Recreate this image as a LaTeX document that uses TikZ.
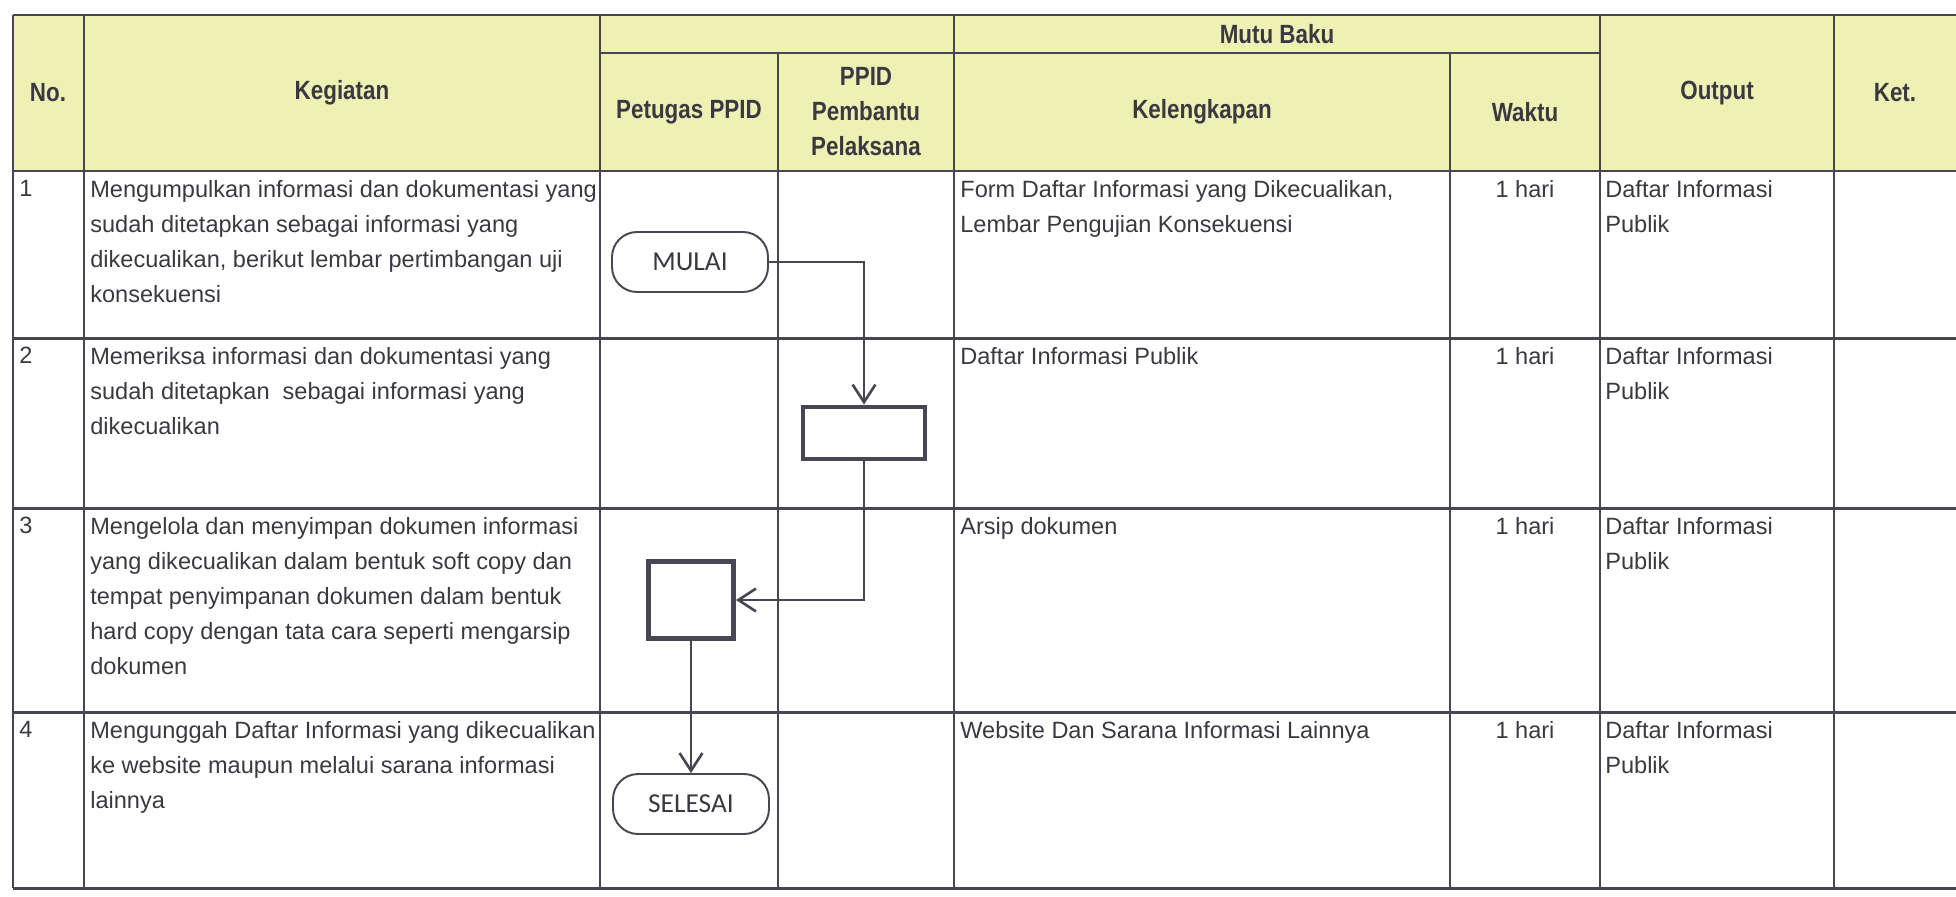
\documentclass[tikz,border=0pt]{standalone}
\usepackage{fontspec}
\setmainfont{Liberation Sans}
\newfontfamily\headfont[FakeStretch=0.85]{Liberation Sans}
\newfontfamily\shapefont{Carlito}
\usetikzlibrary{arrows.meta}

\definecolor{garis}{RGB}{74,69,82}
\definecolor{kepala}{RGB}{237,242,180}
\definecolor{tinta}{RGB}{60,56,66}

\begin{document}
\begin{tikzpicture}[x=0.02cm, y=-0.02cm,
    hgrid/.style={draw=garis, line width=1.7pt},
    vgrid/.style={draw=garis, line width=1.3pt},
    judul/.style={font=\headfont\bfseries\fontsize{15}{19.9}\selectfont, text=tinta, align=center, inner sep=0pt},
    isi/.style={font=\fontsize{13.4}{19.9}\selectfont, text=tinta, align=left, anchor=north west, inner sep=0pt},
    waktu/.style={font=\fontsize{13.4}{19.9}\selectfont, text=tinta, anchor=north, inner sep=0pt},
    ujung/.style={draw=garis, line width=1.1pt, rounded corners=0.5cm, minimum width=3.12cm, minimum height=1.2cm, font=\shapefont\fontsize{15.6}{18}\selectfont, text=tinta},
    kotak/.style={draw=garis, line width=2.8pt, inner sep=0pt},
    alur/.style={draw=garis, line width=1.5pt, -{Straight Barb[length=10pt,width=13pt]}}]
    \useasboundingbox (0,0) rectangle (1956,896);

    \fill [kepala] (13,15) rectangle (1956,171);
    \draw [hgrid] (13,15) -- (1956,15);
    \draw [hgrid] (600,53) -- (1600,53);
    \foreach \y in {171,338,508,712,888}
        \draw [hgrid] (13,\y) -- (1956,\y);
    \foreach \x in {13,84,600,954,1600,1834}
        \draw [vgrid] (\x,15) -- (\x,888);
    \foreach \x in {778,1450}
        \draw [vgrid] (\x,53) -- (\x,888);

    \node [judul] (hno)   at (48,93)    {No.};
    \node [judul] (hkeg)  at (342,93)   {Kegiatan};
    \node [judul] (hpet)  at (689,112)  {Petugas PPID};
    \node [judul] (hpem)  at (866,112)  {PPID\\Pembantu\\Pelaksana};
    \node [judul] (hmutu) at (1277,34)  {Mutu Baku};
    \node [judul] (hkel)  at (1202,112) {Kelengkapan};
    \node [judul] (hwak)  at (1525,112) {Waktu};
    \node [judul] (hout)  at (1717,93)  {Output};
    \node [judul] (hket)  at (1895,93)  {Ket.};

    % baris 1
    \node [isi] (no1)  at (19,180)  {1};
    \node [isi] (keg1) at (90,180)  {Mengumpulkan informasi dan dokumentasi yang\\sudah ditetapkan sebagai informasi yang\\dikecualikan, berikut lembar pertimbangan uji\\konsekuensi};
    \node [isi] (kel1) at (960,180) {Form Daftar Informasi yang Dikecualikan,\\Lembar Pengujian Konsekuensi};
    \node [waktu] (wak1) at (1525,180) {1 hari};
    \node [isi] (out1) at (1605,180) {Daftar Informasi\\Publik};

    % baris 2
    \node [isi] (no2)  at (19,347)  {2};
    \node [isi] (keg2) at (90,347)  {Memeriksa informasi dan dokumentasi yang\\sudah ditetapkan\ \ sebagai informasi yang\\dikecualikan};
    \node [isi] (kel2) at (960,347) {Daftar Informasi Publik};
    \node [waktu] (wak2) at (1525,347) {1 hari};
    \node [isi] (out2) at (1605,347) {Daftar Informasi\\Publik};

    % baris 3
    \node [isi] (no3)  at (19,517)  {3};
    \node [isi] (keg3) at (90,517)  {Mengelola dan menyimpan dokumen informasi\\yang dikecualikan dalam bentuk soft copy dan\\tempat penyimpanan dokumen dalam bentuk\\hard copy dengan tata cara seperti mengarsip\\dokumen};
    \node [isi] (kel3) at (960,517) {Arsip dokumen};
    \node [waktu] (wak3) at (1525,517) {1 hari};
    \node [isi] (out3) at (1605,517) {Daftar Informasi\\Publik};

    % baris 4
    \node [isi] (no4)  at (19,721)  {4};
    \node [isi] (keg4) at (90,721)  {Mengunggah Daftar Informasi yang dikecualikan\\ke website maupun melalui sarana informasi\\lainnya};
    \node [isi] (kel4) at (960,721) {Website Dan Sarana Informasi Lainnya};
    \node [waktu] (wak4) at (1525,721) {1 hari};
    \node [isi] (out4) at (1605,721) {Daftar Informasi\\Publik};

    % alur
    \node [ujung] (mulai) at (690,262) {MULAI};
    \node [kotak, minimum width=2.44cm, minimum height=1.04cm] (periksa) at (864,433) {};
    \node [kotak, minimum width=1.7cm, minimum height=1.54cm] (simpan) at (691,600) {};
    \node [ujung] (selesai) at (691,804) {SELESAI};

    \draw [alur] (mulai.east) -| (periksa.north);
    \draw [alur] (periksa.south) |- (simpan.east);
    \draw [alur] (simpan.south) -- (selesai.north);
\end{tikzpicture}
\end{document}
